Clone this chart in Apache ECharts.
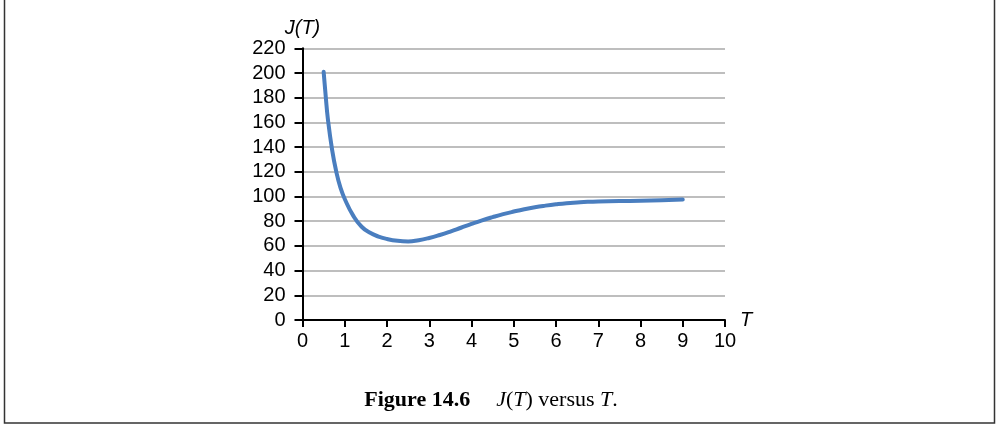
<!DOCTYPE html>
<html>
<head>
<meta charset="utf-8">
<script src="https://cdn.jsdelivr.net/npm/echarts@6/dist/echarts.min.js"></script>
<style>
  html, body { margin: 0; padding: 0; background: #fff; }
  #chart { width: 997px; height: 424px; }
</style>
</head>
<body>
<div id="chart"></div>
<script>
// Cost J as a function of the interval T
const tValues = [0.5, 0.55, 0.6, 0.7, 0.8, 0.9, 1.0, 1.2, 1.4, 1.6, 1.8, 2.0, 2.25, 2.5, 2.75, 3.0, 3.25, 3.5, 3.75, 4.0, 4.25, 4.5, 4.75, 5.0, 5.25, 5.5, 5.75, 6.0, 6.25, 6.5, 6.75, 7.0, 7.5, 8.0, 8.5, 9.0];
const jValues = [201, 181, 163, 138, 120, 107, 98, 84.5, 75.5, 70.6, 67.6, 65.6, 64.1, 63.6, 64.6, 66.4, 68.8, 71.6, 74.7, 77.8, 80.7, 83.3, 85.7, 87.8, 89.7, 91.3, 92.6, 93.7, 94.6, 95.2, 95.7, 96, 96.3, 96.6, 97, 97.6];
const xTicks = [0, 10, 1];   // min, max, step
const yTicks = [0, 220, 20]; // min, max, step

const points = tValues.map((t, i) => [t, jValues[i]]);

const chart = echarts.init(document.getElementById('chart'), null, { renderer: 'canvas' });

const sans = 'Liberation Sans, Arial, Helvetica, sans-serif';
const serif = 'Liberation Serif, Times New Roman, serif';

chart.setOption({
  animation: false,
  backgroundColor: '#ffffff',
  grid: { left: 302.5, right: 272, top: 48.3, bottom: 104, containLabel: false },
  xAxis: {
    type: 'value',
    min: xTicks[0], max: xTicks[1], interval: xTicks[2],
    name: 'T',
    nameLocation: 'end',
    nameGap: 15,
    nameTextStyle: { fontFamily: sans, fontStyle: 'italic', fontSize: 20, color: '#000', padding: [12, 0, 0, 0] },
    axisLine: { show: true, onZero: false, lineStyle: { color: '#000', width: 2 } },
    axisTick: { show: true, length: 7, lineStyle: { color: '#000', width: 2 } },
    axisLabel: { fontFamily: sans, fontSize: 20, color: '#000', margin: 11 },
    splitLine: { show: false }
  },
  yAxis: {
    type: 'value',
    min: yTicks[0], max: yTicks[1], interval: yTicks[2],
    name: 'J(T)',
    nameLocation: 'end',
    nameGap: 7,
    nameTextStyle: { fontFamily: sans, fontStyle: 'italic', fontSize: 20, color: '#000', align: 'center' },
    axisLine: { show: true, lineStyle: { color: '#000', width: 2 } },
    axisTick: { show: true, length: 8, lineStyle: { color: '#000', width: 2 } },
    axisLabel: { fontFamily: sans, fontSize: 20, color: '#000', margin: 17 },
    splitLine: { show: true, lineStyle: { color: '#a8a8a8', width: 1.5 } }
  },
  series: [{
    type: 'line',
    data: points,
    smooth: true,
    showSymbol: false,
    symbol: 'none',
    lineStyle: { color: '#4a7ebf', width: 4, cap: 'round', join: 'round' },
    z: 5
  }],
  graphic: [
    {
      type: 'polyline',
      shape: { points: [[4.5, 0], [4.5, 423], [994.5, 423], [994.5, 0]] },
      style: { stroke: '#333', lineWidth: 1.5, fill: null },
      silent: true
    },
    {
      type: 'text',
      x: 491,
      y: 400,
      style: {
        text: '{b|Figure 14.6}{i|J}{n|(}{i|T}{n|) versus }{i|T}{n|.}',
        align: 'center',
        verticalAlign: 'middle',
        rich: {
          b: { fontFamily: serif, fontWeight: 'bold', fontSize: 22, fill: '#000', padding: [0, 26, 0, 0] },
          i: { fontFamily: serif, fontStyle: 'italic', fontSize: 22, fill: '#000' },
          n: { fontFamily: serif, fontSize: 22, fill: '#000' }
        }
      },
      silent: true
    }
  ]
});
</script>
</body>
</html>
